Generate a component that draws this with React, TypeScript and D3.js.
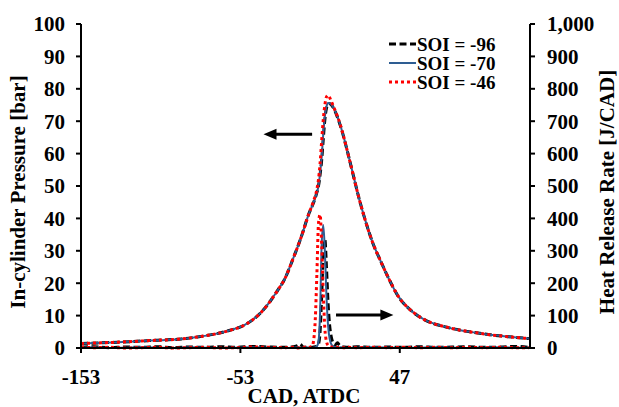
import React from "react";
import * as d3 from "d3";

const W = 619;
const H = 407;

// Pressure data (bar) vs CAD
const cadP = [-153, -140, -130, -120, -110, -100, -90, -80, -70, -60, -50, -40, -30, -25, -20, -15, -10, -7, -5, -4, -3, -2, -1, 0, 1, 2, 3, 4, 5, 6, 8, 10, 12, 15, 18, 21, 25, 30, 35, 40, 46, 55, 63, 75, 85, 95, 105, 115, 128];
const pSoi96 = [1.4, 1.6, 1.8, 2.0, 2.3, 2.5, 2.8, 3.4, 4.2, 5.4, 7.2, 11, 17.5, 21.5, 27.5, 34, 41.5, 45, 48, 50, 53.5, 58, 64.5, 70.5, 74, 75.2, 75.4, 75.1, 74.4, 73.5, 71.1, 68.2, 64.8, 59, 53, 47, 40, 32.5, 26.8, 21.5, 16, 11.2, 8.6, 6.6, 5.5, 4.7, 4.0, 3.5, 2.9];
const pSoi70 = [1.4, 1.6, 1.8, 2.0, 2.3, 2.5, 2.8, 3.4, 4.2, 5.4, 7.2, 11, 17.5, 21.5, 27.5, 34, 41.5, 45, 48, 50, 54, 59, 66, 71.5, 74.5, 75.6, 75.5, 75.2, 74.5, 73.6, 71.2, 68.3, 64.8, 59, 53, 47, 40, 32.5, 26.8, 21.5, 16, 11.2, 8.6, 6.6, 5.5, 4.7, 4.0, 3.5, 2.9];
const pSoi46 = [1.4, 1.6, 1.8, 2.0, 2.3, 2.5, 2.8, 3.4, 4.2, 5.4, 7.2, 11, 17.5, 21.5, 27.5, 34, 41.5, 45.5, 49, 52, 57, 64, 70.5, 75, 77.5, 78, 77.3, 76.2, 75, 73.8, 71.4, 68.4, 64.8, 59, 53, 47, 40, 32.5, 26.8, 21.5, 16, 11.2, 8.6, 6.6, 5.5, 4.7, 4.0, 3.5, 2.9];

// Heat release rate data (J/CAD) vs CAD
const cadH = [-153, -145, -135, -125, -115, -105, -95, -85, -75, -65, -55, -45, -35, -25, -20, -17, -16, -15, -14, -12, -10, -8, -7, -6, -5, -4, -3, -2, -1, 0, 1, 2, 3, 4, 5, 6, 7, 8, 9, 10, 12, 15, 20, 30, 40, 50, 60, 70, 80, 90, 100, 110, 120, 128];
const hSoi96 = [2, 4, 1, 3, 2, 4, 1, 3, 2, 4, 2, 5, 3, 2, 4, 8, 12, 10, 4, 2, 3, 2, 3, 4, 6, 12, 50, 160, 290, 335, 250, 140, 70, 35, 18, 10, 12, 16, 10, 5, 3, 2, 4, 2, 3, 2, 4, 2, 3, 4, 2, 3, 5, 2];
const hSoi70 = [1, 2, 0, 1, 2, 1, 0, 2, 1, 0, 1, 2, 1, 0, 1, 2, 1, 0, 1, 2, 1, 0, 1, 2, 5, 20, 110, 320, 380, 300, 160, 70, 28, 12, 6, 4, 3, 2, 1, 2, 1, 0, 1, 2, 1, 0, 1, 2, 1, 0, 1, 2, 1, 1];
const hSoi46 = [3, 1, 2, 0, 1, 2, 0, 1, 2, 0, 1, 3, 2, 1, 2, 0, 1, 2, 1, 3, 2, 6, 25, 90, 230, 385, 412, 320, 170, 60, 20, 8, 4, 3, 2, 2, 3, 2, 1, 2, 1, 2, 1, 2, 1, 2, 1, 2, 1, 2, 1, 2, 1, 1];

const xTicks = [-153, -53, 47];
const yLeftTicks = [0, 10, 20, 30, 40, 50, 60, 70, 80, 90, 100];
const yRightTicks = [0, 100, 200, 300, 400, 500, 600, 700, 800, 900, 1000];
const seriesNames = ["SOI = -96", "SOI = -70", "SOI = -46"];

const FONT = "'Liberation Serif', 'Times New Roman', serif";

export default function App() {
  const left = 81, right = 530, top = 24, bottom = 348;
  const x = d3.scaleLinear().domain([-153, 128.7]).range([left, right]);
  const yL = d3.scaleLinear().domain([0, 100]).range([bottom, top]);
  const yR = d3.scaleLinear().domain([0, 1000]).range([bottom, top]);
  const fmt = d3.format(",");
  const FS = 21;

  const styles = [
    { stroke: "#000000", width: 3, dash: "7 3.5" },
    { stroke: "#2E5D92", width: 2, dash: "none" },
    { stroke: "#FF0000", width: 3, dash: "3 3" },
  ];

  const pSeries = [pSoi96, pSoi70, pSoi46];
  const hSeries = [hSoi96, hSoi70, hSoi46];

  const lineP = (vals: number[]) =>
    d3.line<number>().x((_, i) => x(cadP[i])).y((d) => yL(d)).curve(d3.curveMonotoneX)(vals) || "";
  const lineH = (vals: number[]) =>
    d3.line<number>().x((_, i) => x(cadH[i])).y((d) => yR(d)).curve(d3.curveMonotoneX)(vals) || "";

  const la = { x1: x(-8), x2: x(-38.5), y: yL(66) };
  const ra = { x1: x(7), x2: x(43), y: yR(102) };

  const legendY = [44, 63, 82];

  return (
    <svg width={W} height={H} style={{ position: "absolute", left: 0, top: 0, background: "#fff" }} fontFamily={FONT}>
      <rect x={0} y={0} width={W} height={H} fill="#fff" />
      {pSeries.map((s, i) => (
        <path key={"p" + i} d={lineP(s)} fill="none" stroke={styles[i].stroke} strokeWidth={styles[i].width} strokeDasharray={styles[i].dash} />
      ))}
      {hSeries.map((s, i) => (
        <path key={"h" + i} d={lineH(s)} fill="none" stroke={styles[i].stroke} strokeWidth={styles[i].width} strokeDasharray={styles[i].dash} />
      ))}

      <line x1={left} x2={left} y1={top} y2={bottom} stroke="#000" strokeWidth={2} />
      <line x1={right} x2={right} y1={top} y2={bottom} stroke="#000" strokeWidth={2} />
      <line x1={left - 5} x2={right + 5} y1={bottom} y2={bottom} stroke="#000" strokeWidth={2} />
      {yLeftTicks.map((t) => (
        <g key={"yl" + t}>
          <line x1={left - 5} x2={left} y1={yL(t)} y2={yL(t)} stroke="#000" strokeWidth={2} />
          <text x={left - 16} y={yL(t)} dy="0.35em" textAnchor="end" fontSize={FS} fontWeight="bold">{t}</text>
        </g>
      ))}
      {yRightTicks.map((t) => (
        <g key={"yr" + t}>
          <line x1={right} x2={right + 5} y1={yR(t)} y2={yR(t)} stroke="#000" strokeWidth={2} />
          <text x={right + 17} y={yR(t)} dy="0.35em" textAnchor="start" fontSize={FS} fontWeight="bold">{fmt(t)}</text>
        </g>
      ))}
      {xTicks.map((t) => (
        <g key={"x" + t}>
          <line x1={x(t)} x2={x(t)} y1={bottom} y2={bottom + 5} stroke="#000" strokeWidth={2} />
          <text x={x(t)} y={377} dy="0.35em" textAnchor="middle" fontSize={FS} fontWeight="bold">{t}</text>
        </g>
      ))}

      <text x={304} y={395.5} dy="0.35em" textAnchor="middle" fontSize={FS} fontWeight="bold">CAD, ATDC</text>
      <text transform={`translate(18,192) rotate(-90)`} dy="0.35em" textAnchor="middle" fontSize={FS} fontWeight="bold">In-cylinder Pressure [bar]</text>
      <text transform={`translate(607,192) rotate(-90)`} dy="0.35em" textAnchor="middle" fontSize={FS} fontWeight="bold">Heat Release Rate [J/CAD]</text>

      <line x1={la.x1} x2={la.x2 + 9} y1={la.y} y2={la.y} stroke="#000" strokeWidth={3} />
      <polygon points={`${la.x2},${la.y} ${la.x2 + 13},${la.y - 5.5} ${la.x2 + 13},${la.y + 5.5}`} fill="#000" />
      <line x1={ra.x1} x2={ra.x2 - 9} y1={ra.y} y2={ra.y} stroke="#000" strokeWidth={3} />
      <polygon points={`${ra.x2},${ra.y} ${ra.x2 - 13},${ra.y - 5.5} ${ra.x2 - 13},${ra.y + 5.5}`} fill="#000" />

      {seriesNames.map((n, i) => (
        <g key={"lg" + i}>
          <line x1={389} x2={416} y1={legendY[i]} y2={legendY[i]} stroke={styles[i].stroke} strokeWidth={styles[i].width} strokeDasharray={styles[i].dash} />
          <text x={417} y={legendY[i]} dy="0.35em" fontSize={19} fontWeight="bold">{n}</text>
        </g>
      ))}
    </svg>
  );
}
